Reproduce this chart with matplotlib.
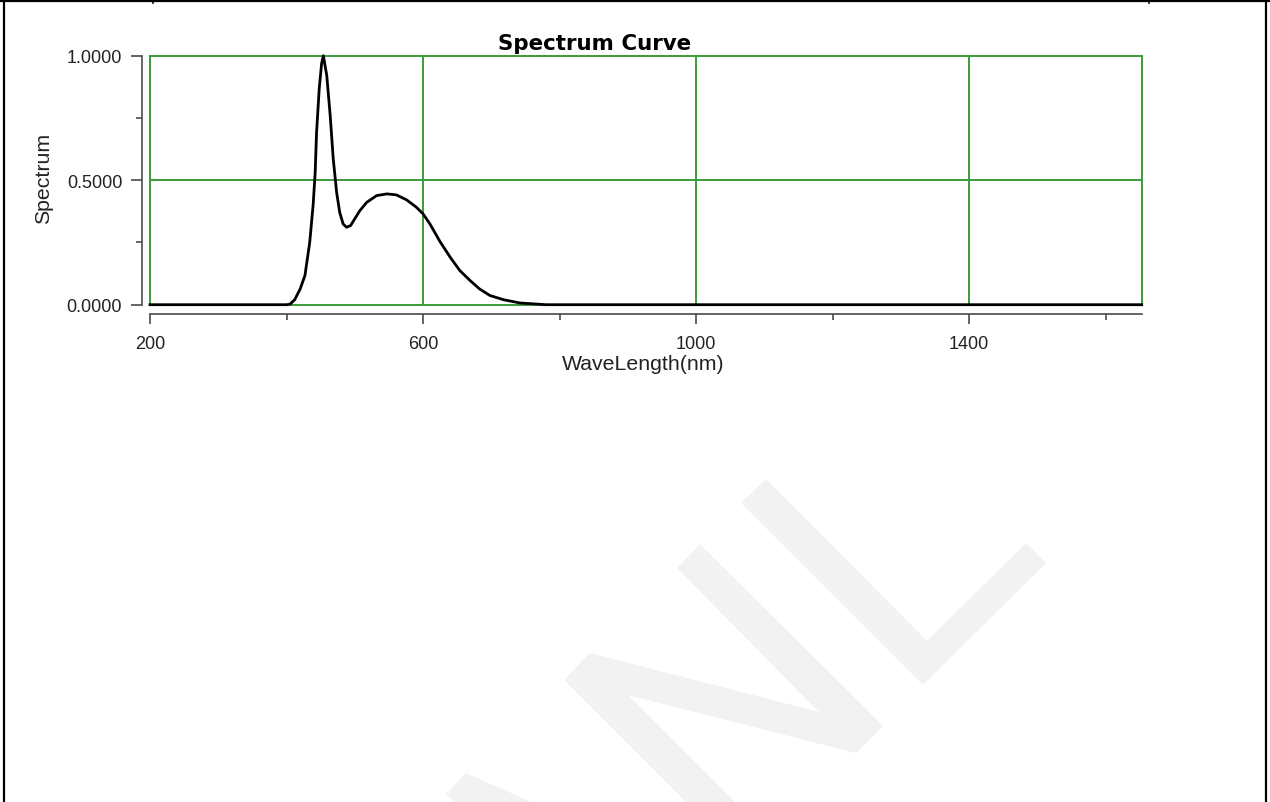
import matplotlib
matplotlib.use("Agg")
import matplotlib.pyplot as plt
from matplotlib.patches import Polygon
from matplotlib.ticker import FixedLocator, FixedFormatter

# --- data ------------------------------------------------------------------
wavelength = [200, 400, 405, 412, 420, 427, 434, 439, 442, 444, 448, 451.5,
              454, 459, 464, 468.5, 473.5, 478, 483, 488, 494, 500, 507.5,
              517.5, 532, 547, 561, 576, 590, 600, 610, 625, 640, 654, 669,
              683, 698, 718, 742, 780, 1653]
spectrum = [0.0, 0.0, 0.002, 0.02, 0.063, 0.117, 0.25, 0.40, 0.53, 0.69,
            0.87, 0.97, 1.0, 0.92, 0.76, 0.585, 0.45, 0.37, 0.324, 0.311,
            0.318, 0.345, 0.378, 0.411, 0.438, 0.445, 0.441, 0.421, 0.392,
            0.365, 0.325, 0.253, 0.19, 0.137, 0.097, 0.063, 0.037, 0.02,
            0.007, 0.0, 0.0]

x_major = [200, 600, 1000, 1400]
x_minor = [400, 800, 1200, 1600]
y_major = [0.0, 0.5, 1.0]
y_minor = [0.25, 0.75]
y_labels = ["0.0000", "0.5000", "1.0000"]

W, H = 1270, 803
GREEN = "#3a9a3a"
AXC = "#4a4a4a"
TXT = "#222222"
FONT = "Liberation Sans"

fig = plt.figure(figsize=(W / 100, H / 100), dpi=100)

# background layer in pixel coords: page frame + faint watermark
bg = fig.add_axes([0, 0, 1, 1])
bg.set_xlim(0, W)
bg.set_ylim(H, 0)
bg.axis("off")
bg.plot([0, W], [1.5, 1.5], color="black", lw=1.6)
bg.plot([4, 4], [0, H], color="black", lw=1.6)
bg.plot([1266, 1266], [0, H], color="black", lw=1.6)
bg.plot([153, 153], [0, 4], color="black", lw=1.2)
bg.plot([1149, 1149], [0, 4], color="black", lw=1.2)

watermark = [
    [(766, 480), (927, 642), (1026, 544), (1046, 564), (923, 686), (741, 504)],
    [(700, 545), (883, 727), (856, 754), (628, 696), (735, 803), (686, 803),
     (564, 681), (590, 654), (819, 713), (677, 569)],
    [(466, 774), (531, 803), (455, 803), (446, 795)],
]
for pts in watermark:
    bg.add_patch(Polygon(pts, closed=True, facecolor="#f2f2f2",
                         edgecolor="none"))

# main plot
left, right = 150 / W, 1141.7 / W
top, bottom = 1 - 56.7 / H, 1 - 305.7 / H
ax = fig.add_axes([left, bottom, right - left, top - bottom])
ax.set_xlim(200, 1653)
ax.set_ylim(0, 1)

ax.plot(wavelength, spectrum, color="black", lw=2.0, zorder=5,
        clip_on=False, solid_joinstyle="round")

# green frame + grid
for s in ["top", "right"]:
    ax.spines[s].set_color(GREEN)
    ax.spines[s].set_linewidth(1.4)
for xv in x_major[1:]:
    ax.axvline(xv, color=GREEN, lw=1.4, zorder=1)
ax.axhline(0.5, color=GREEN, lw=1.4, zorder=1)
ax.axvline(200, color=GREEN, lw=1.4, zorder=1, clip_on=False)
ax.axhline(0.0, color=GREEN, lw=1.4, zorder=1, clip_on=False)

# detached axis lines
ax.spines["left"].set_position(("outward", 6))
ax.spines["bottom"].set_position(("outward", 7))
for s in ["left", "bottom"]:
    ax.spines[s].set_color(AXC)
    ax.spines[s].set_linewidth(1.2)

ax.xaxis.set_major_locator(FixedLocator(x_major))
ax.xaxis.set_minor_locator(FixedLocator(x_minor))
ax.yaxis.set_major_locator(FixedLocator(y_major))
ax.yaxis.set_minor_locator(FixedLocator(y_minor))
ax.yaxis.set_major_formatter(FixedFormatter(y_labels))

ax.tick_params(axis="x", which="major", length=7, width=1.2, color=AXC,
               pad=8, labelsize=13, labelcolor=TXT)
ax.tick_params(axis="x", which="minor", length=4, width=1.2, color=AXC)
ax.tick_params(axis="y", which="major", length=8, width=1.2, color=AXC,
               pad=6, labelsize=13, labelcolor=TXT)
ax.tick_params(axis="y", which="minor", length=4.5, width=1.2, color=AXC)
for lab in ax.get_xticklabels() + ax.get_yticklabels():
    lab.set_fontfamily(FONT)

ax.set_xlabel("WaveLength(nm)", fontsize=15.3, family=FONT, color=TXT)
ax.xaxis.set_label_coords(0.497, -0.2)
ax.xaxis.label.set_va("top")
ax.set_ylabel("Spectrum", fontsize=15.3, family=FONT, color=TXT)
ax.yaxis.set_label_coords(-0.107, 0.513)
ax.yaxis.label.set_va("center")

ax.set_title("Spectrum Curve", fontsize=15.4, fontweight="bold",
             family="DejaVu Sans", x=0.448, pad=5)

fig.savefig("out.png", dpi=100)
